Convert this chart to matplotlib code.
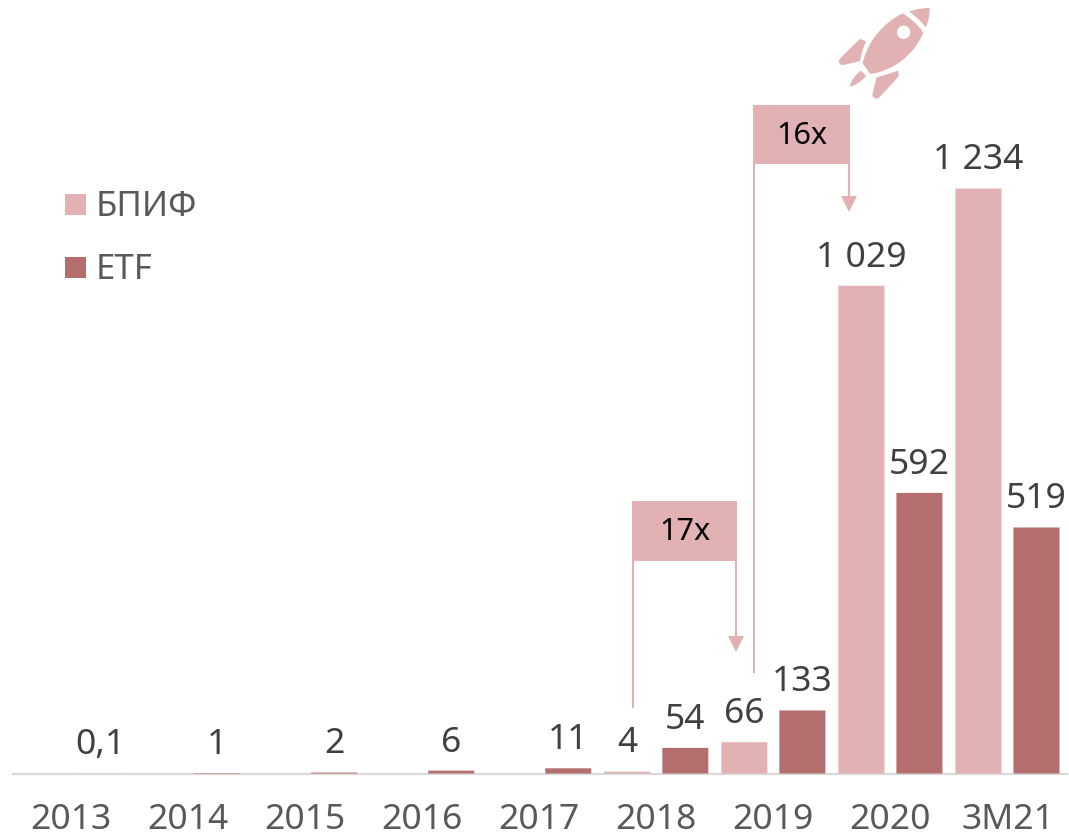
import matplotlib
matplotlib.use("Agg")
import matplotlib.pyplot as plt
from matplotlib.patches import Rectangle, Polygon, PathPatch, Circle
from matplotlib.path import Path

W, H = 1069, 839
plt.rcParams['font.family'] = ['Noto Sans', 'DejaVu Sans']

COLOR_BPIF = "#E2B1B3"
COLOR_ETF = "#B46E6E"
COLOR_LABEL = "#404040"
COLOR_AXIS = "#595959"

categories = ["2013", "2014", "2015", "2016", "2017", "2018", "2019", "2020", "3М21"]
etf_values = [0.1, 1, 2, 6, 11, 54, 133, 592, 519]
bpif_values = [0, 0, 0, 0, 0, 4, 66, 1029, 1234]
etf_labels = ["0,1", "1", "2", "6", "11", "54", "133", "592", "519"]
bpif_labels = ["", "", "", "", "", "4", "66", "1 029", "1 234"]

fig = plt.figure(figsize=(W / 100, H / 100), dpi=100)

# оси подогнаны под пиксели: базовая линия на y=773.5, шаг категории 117 px
ax = fig.add_axes([13 / W, (H - 773.5) / H, (1067 - 13) / W, 773.5 / H])
ax.set_xlim(-58 / 117, 8.5 + 1 / 117)
ax.set_ylim(0, 773.5 / 0.474)
ax.patch.set_alpha(0)
for s in ["top", "left", "right"]:
    ax.spines[s].set_visible(False)
ax.spines["bottom"].set_color("#D9D9D9")
ax.spines["bottom"].set_linewidth(1.6)
ax.set_yticks([])

x_pos = list(range(len(categories)))
offset = 29 / 117
width = 46 / 117
for i in x_pos:
    if bpif_labels[i]:
        bars = ax.bar(i - offset, bpif_values[i], width, color=COLOR_BPIF, zorder=3)
        bars[0].set_snap(False)
        ax.annotate(bpif_labels[i], (i - offset, bpif_values[i]), xytext=(0, 8), textcoords="offset points",
                    ha="center", va="bottom", fontsize=25.5, color=COLOR_LABEL)
    bars = ax.bar(i + offset, etf_values[i], width, color=COLOR_ETF, zorder=3)
    bars[0].set_snap(False)
    ax.annotate(etf_labels[i], (i + offset, etf_values[i]), xytext=(0, 8), textcoords="offset points",
                ha="center", va="bottom", fontsize=25.5, color=COLOR_LABEL)

ax.set_xticks(x_pos)
ax.set_xticklabels(categories, fontsize=25.5, color=COLOR_AXIS)
ax.tick_params(axis="x", length=0, pad=21)

# верхний слой в пикселях для легенды, рамок и ракеты
top = fig.add_axes([0, 0, 1, 1])
top.set_xlim(0, W)
top.set_ylim(H, 0)
top.axis("off")

top.add_patch(Rectangle((65, 194), 21, 21, color=COLOR_BPIF, lw=0))
top.add_patch(Rectangle((65, 257), 21, 21, color=COLOR_ETF, lw=0))
top.text(96, 207, "БПИФ", fontsize=25, color=COLOR_AXIS, va="center", ha="left")
top.text(96, 270, "ETF", fontsize=25, color=COLOR_AXIS, va="center", ha="left")

def growth_box(x0, x1, y0, y1, left_end, tip_y, label):
    top.add_patch(Rectangle((x0, y0), x1 - x0, y1 - y0, color=COLOR_BPIF, lw=0))
    top.plot([x0 + 1, x0 + 1], [y1, left_end], color=COLOR_BPIF, lw=1.5, solid_capstyle="butt")
    top.plot([x1 - 1, x1 - 1], [y1, tip_y - 10], color=COLOR_BPIF, lw=1.5, solid_capstyle="butt")
    top.add_patch(Polygon([(x1 - 9, tip_y - 16), (x1 + 7, tip_y - 16), (x1 - 1, tip_y)], color=COLOR_BPIF, lw=0))
    top.text((x0 + x1) / 2, (y0 + y1) / 2 + 1, label, fontsize=22, color="black", ha="center", va="center")

growth_box(753, 850, 105, 164, 673, 212, "16x")
growth_box(632, 737, 501, 561, 708, 652, "17x")

# ракета, контуры
def blob(points):
    verts = [points[0]]
    codes = [Path.MOVETO]
    for p in points[1:]:
        verts.extend(p)
        codes.extend([Path.CURVE4] * 3)
    return Path(verts, codes)

ox, oy = 780, 0
def z(x, y):
    return (ox + x / 3, oy + y / 3)

body = blob([z(368, 40),
             [z(310, 68), z(262, 125), z(248, 190)],
             [z(255, 200), z(262, 212), z(272, 222)],
             [z(340, 212), z(402, 165), z(430, 98)],
             [z(415, 75), z(392, 55), z(368, 40)]])
nose = blob([z(388, 35),
             [z(408, 27), z(430, 24), z(449, 24)],
             [z(449, 45), z(446, 65), z(437, 82)],
             [z(424, 64), z(406, 48), z(388, 35)]])
fin_left = blob([z(258, 125),
                 [z(250, 120), z(245, 118), z(240, 117)],
                 [z(220, 135), z(198, 158), z(178, 178)],
                 [z(175, 186), z(178, 194), z(188, 195)],
                 [z(205, 192), z(222, 188), z(240, 183)],
                 [z(243, 163), z(250, 143), z(258, 125)]])
fin_right = blob([z(354, 212),
                  [z(332, 220), z(312, 226), z(290, 232)],
                  [z(286, 250), z(281, 265), z(277, 285)],
                  [z(280, 295), z(288, 298), z(296, 294)],
                  [z(315, 275), z(335, 252), z(355, 230)],
                  [z(357, 224), z(356, 218), z(354, 212)]])
fin_small = blob([z(243, 212),
                  [z(228, 222), z(214, 240), z(209, 260)],
                  [z(225, 257), z(245, 245), z(258, 228)],
                  [z(253, 222), z(248, 217), z(243, 212)]])
for p in [body, nose, fin_left, fin_right, fin_small]:
    top.add_patch(PathPatch(p, facecolor=COLOR_BPIF, edgecolor="none"))
top.add_patch(Circle(z(371, 97), 20 / 3, color="white", lw=0))

fig.savefig("out.png", dpi=100)
